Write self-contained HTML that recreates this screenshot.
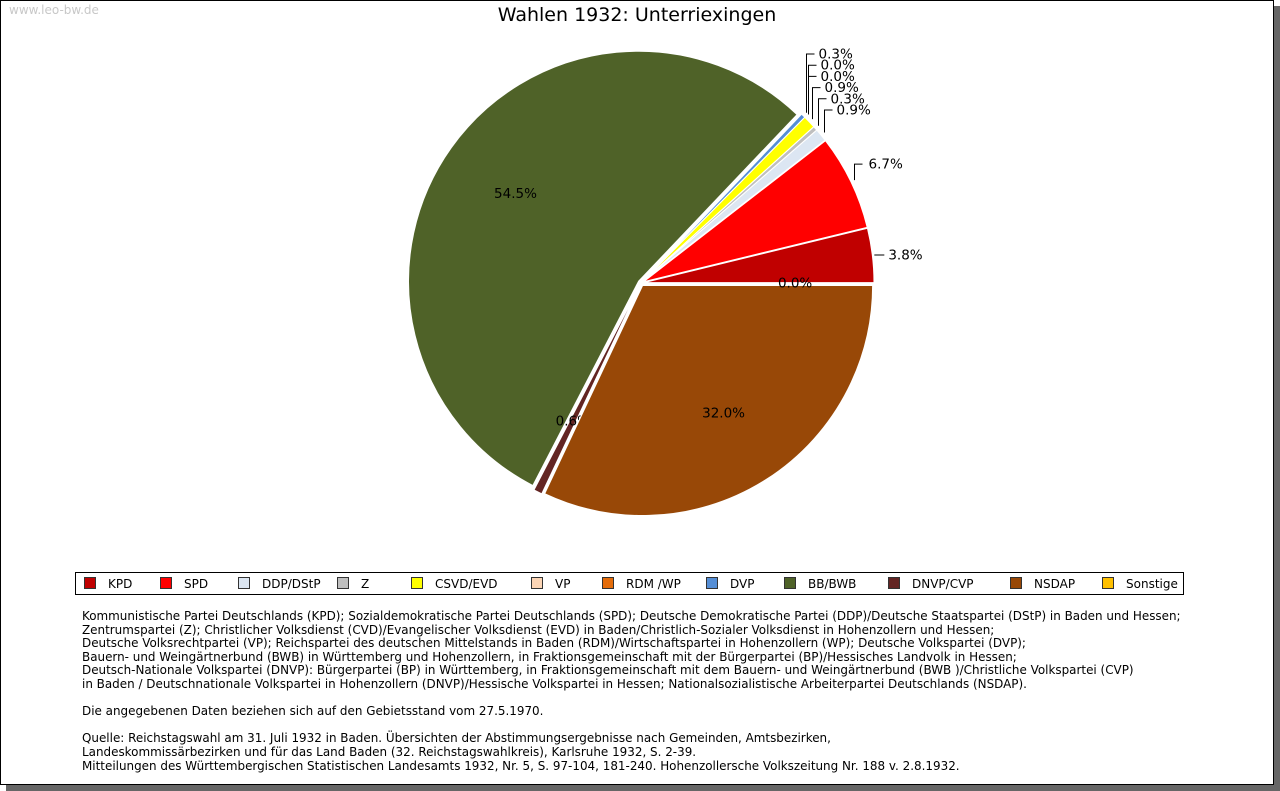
<!DOCTYPE html>
<html><head><meta charset="utf-8">
<style>
html,body{margin:0;padding:0;background:#fff;}
body{width:1280px;height:791px;position:relative;overflow:hidden;font-family:"DejaVu Sans","Liberation Sans",sans-serif;}
#shadow{position:absolute;left:6px;top:6px;width:1274px;height:785px;background:#666;}
#frame{position:absolute;left:0;top:0;width:1272px;height:783px;border:1px solid #000;background:#fff;}
#wm{position:absolute;left:9px;top:3px;font-size:12px;color:#c8c8c8;font-family:"DejaVu Sans",sans-serif;}
#title{position:absolute;left:0;width:1274px;top:4px;text-align:center;font-size:19px;color:#000;}
#legend{position:absolute;left:75px;top:572px;width:1107px;height:21px;border:1px solid #000;font-size:12px;}
.li{position:absolute;top:4px;white-space:nowrap;}
.sw{display:inline-block;width:10px;height:10px;border:1px solid #333;vertical-align:-1px;margin-right:12px;}
#notes{position:absolute;left:82px;top:610px;font-size:11.95px;line-height:13.6px;color:#000;white-space:pre;}
svg{position:absolute;left:0;top:0;}
</style></head><body>
<div id="shadow"></div>
<div id="frame"></div>
<div id="wm">www.leo-bw.de</div>
<div id="title">Wahlen 1932: Unterriexingen</div>
<svg id="pie" width="1280" height="791"></svg>
<div id="legend"></div>
<div id="notes">Kommunistische Partei Deutschlands (KPD); Sozialdemokratische Partei Deutschlands (SPD); Deutsche Demokratische Partei (DDP)/Deutsche Staatspartei (DStP) in Baden und Hessen;
Zentrumspartei (Z); Christlicher Volksdienst (CVD)/Evangelischer Volksdienst (EVD) in Baden/Christlich-Sozialer Volksdienst in Hohenzollern und Hessen;
Deutsche Volksrechtpartei (VP); Reichspartei des deutschen Mittelstands in Baden (RDM)/Wirtschaftspartei in Hohenzollern (WP); Deutsche Volkspartei (DVP);
Bauern- und Weingärtnerbund (BWB) in Württemberg und Hohenzollern, in Fraktionsgemeinschaft mit der Bürgerpartei (BP)/Hessisches Landvolk in Hessen;
Deutsch-Nationale Volkspartei (DNVP): Bürgerpartei (BP) in Württemberg, in Fraktionsgemeinschaft mit dem Bauern- und Weingärtnerbund (BWB )/Christliche Volkspartei (CVP)
in Baden / Deutschnationale Volkspartei in Hohenzollern (DNVP)/Hessische Volkspartei in Hessen; Nationalsozialistische Arbeiterpartei Deutschlands (NSDAP).

Die angegebenen Daten beziehen sich auf den Gebietsstand vom 27.5.1970.

Quelle: Reichstagswahl am 31. Juli 1932 in Baden. Übersichten der Abstimmungsergebnisse nach Gemeinden, Amtsbezirken,
Landeskommissärbezirken und für das Land Baden (32. Reichstagswahlkreis), Karlsruhe 1932, S. 2-39.
Mitteilungen des Württembergischen Statistischen Landesamts 1932, Nr. 5, S. 97-104, 181-240. Hohenzollersche Volkszeitung Nr. 188 v. 2.8.1932.</div>
<script>
const parties = ["KPD","SPD","DDP/DStP","Z","CSVD/EVD","VP","RDM /WP","DVP","BB/BWB","DNVP/CVP","NSDAP","Sonstige"];
const values = [3.8,6.7,0.9,0.3,0.9,0.0,0.0,0.3,54.5,0.6,32.0,0.0];
const colors = ["#c00000","#ff0000","#dce6f2","#bfbfbf","#ffff00","#fcd5b5","#e46c0a","#558ed5","#4f6228","#632523","#984807","#ffc000"];
const labels = ["3.8%","6.7%","0.9%","0.3%","0.9%","0.0%","0.0%","0.3%","54.5%","0.6%","32.0%","0.0%"];
const legendX = [84,160,238,337,411,531,602,706,784,888,1010,1102];

const NS="http://www.w3.org/2000/svg";
const svg=document.getElementById('pie');
const cx=641, cy=283, R=230;
const total=values.reduce((a,b)=>a+b,0);
function pt(a,r,ox,oy){return [cx+ox+r*Math.cos(a), cy+oy-r*Math.sin(a)];}
function addLine(d){
  const ln=document.createElementNS(NS,'path');
  ln.setAttribute('d',d);
  ln.setAttribute('stroke','#000');ln.setAttribute('fill','none');
  
  
  svg.appendChild(ln);
}
let acc=0;
const smallStack=[2,3,4,5,6,7];
values.forEach((v,i)=>{
  const a0=acc/total*2*Math.PI; acc+=v; const a1=acc/total*2*Math.PI;
  const mid=(a0+a1)/2;
  const off=3;
  const ox=off*Math.cos(mid), oy=-off*Math.sin(mid);
  if(v>0){
    const p0=pt(a0,R,ox,oy), p1=pt(a1,R,ox,oy);
    const large=(a1-a0)>Math.PI?1:0;
    const path=document.createElementNS(NS,'path');
    path.setAttribute('d',`M${cx+ox},${cy+oy} L${p0[0]},${p0[1]} A${R},${R} 0 ${large} 0 ${p1[0]},${p1[1]} Z`);
    path.setAttribute('fill',colors[i]);
    path.setAttribute('stroke','#fff');
    path.setAttribute('stroke-width','1');
    
    
    svg.appendChild(path);
  }
  let tx,ty,anchor='start';
  if(v>=20 || i===9 || i===11){
    const p=pt(mid,R*0.67,0,0); tx=p[0]; ty=p[1]; anchor='middle';
  } else if(i===0){
    const e=pt(mid,R+2,ox,oy);
    addLine(`M${e[0]},${e[1]} L${e[0]+10},${e[1]}`);
    tx=e[0]+14; ty=e[1];
  } else if(i===1){
    const e=pt(mid,R+4,ox,oy);
    const lx=Math.round(e[0])+0.5;
    addLine(`M${lx},${e[1]} L${lx},${e[1]-16} L${lx+8},${e[1]-16}`);
    tx=lx+14; ty=e[1]-16;
  } else {
    const s=smallStack.indexOf(i);
    const e=pt(mid,R+4,ox,oy);
    ty=110-s*11.2;
    const lx=Math.round(e[0])+0.5;
    addLine(`M${lx},${e[1]} L${lx},${ty} L${lx+8},${ty}`);
    tx=lx+12;
  }
  const t=document.createElementNS(NS,'text');
  t.setAttribute('x',tx);t.setAttribute('y',ty+4.5);
  t.setAttribute('text-anchor',anchor);
  t.setAttribute('font-size','13.5');
  t.setAttribute('font-family','DejaVu Sans, Liberation Sans, sans-serif');
  t.textContent=labels[i];
  
  
  svg.appendChild(t);
});
const leg=document.getElementById('legend');
parties.forEach((p,i)=>{
  const d=document.createElement('div');
  d.className='li';
  d.style.left=(legendX[i]-76)+'px';
  
  
  d.innerHTML=`<span class="sw" style="background:${colors[i]}"></span>${p}`;
  leg.appendChild(d);
});
</script>
</body></html>
